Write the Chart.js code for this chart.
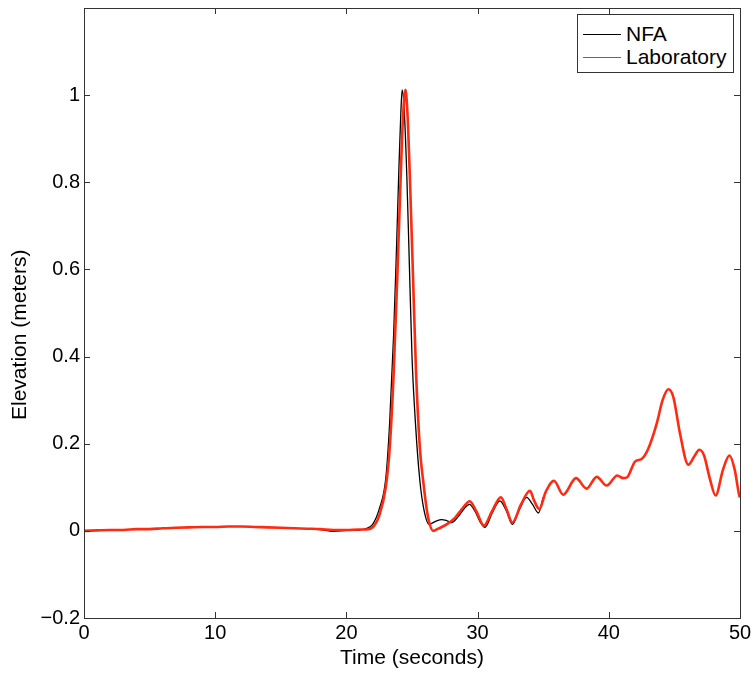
<!DOCTYPE html>
<html>
<head>
<meta charset="utf-8">
<script src="https://cdn.jsdelivr.net/npm/chart.js@4"></script>
<style>
  body { margin: 0; background: #fff; }
  #wrap { position: relative; width: 753px; height: 675px; }
  #legend {
    position: absolute; left: 577px; top: 14px; width: 155px; height: 57px;
    border: 1px solid #333; background: #fff;
    font-family: "Liberation Sans", Arial, sans-serif; font-size: 21px; color: #000;
  }
  .row { position: absolute; left: 0; height: 24px; line-height: 24px; }
  .row span.ln { position: absolute; left: 5px; top: 12px; width: 38px; height: 1px; }
  .row span.tx { position: absolute; left: 48px; white-space: nowrap; }
</style>
</head>
<body>
<div id="wrap">
  <canvas id="chart" width="753" height="675"></canvas>
  <div id="legend">
    <div class="row" style="top:7px"><span class="ln" style="background:#000"></span><span class="tx">NFA</span></div>
    <div class="row" style="top:30px"><span class="ln" style="background:#ff2a10"></span><span class="tx">Laboratory</span></div>
  </div>
</div>
<script>
// NFA model run (only computed over a window around the pulse)
const nfaTime = [17, 18, 19, 20, 21, 21.5, 22, 22.5, 23, 23.3, 23.6, 23.8, 24.0, 24.15, 24.25, 24.4, 24.6, 24.8, 25.0, 25.3, 25.6, 25.9, 26.3, 26.8, 27.26, 27.6, 28.0, 28.5, 29.0, 29.37, 29.8, 30.2, 30.56, 31.1, 31.7, 32.2, 32.65, 33.2, 33.74, 34.2, 34.64, 35.0];
const nfaElev = [0.004, 0.003, -0.001, 0.001, 0.002, 0.005, 0.015, 0.05, 0.12, 0.25, 0.45, 0.63, 0.83, 0.96, 1.012, 0.97, 0.82, 0.61, 0.40, 0.23, 0.115, 0.05, 0.015, 0.022, 0.026, 0.024, 0.019, 0.032, 0.052, 0.061, 0.045, 0.02, 0.008, 0.04, 0.069, 0.045, 0.015, 0.05, 0.077, 0.06, 0.041, 0.077];

// laboratory gauge record
const labTime = [0, 1, 2, 3, 4, 5, 6, 7, 8, 9, 10, 11, 12, 13, 14, 15, 16, 17, 18, 19, 20, 21, 21.5, 22, 22.5, 23.0, 23.3, 23.6, 23.9, 24.1, 24.3, 24.5, 24.65, 24.85, 25.05, 25.3, 25.6, 25.85, 26.2, 26.62, 27.0, 27.64, 28.28, 28.8, 29.4, 29.9, 30.49, 31.1, 31.78, 32.2, 32.65, 33.3, 33.99, 34.3, 34.7, 35.2, 35.82, 36.53, 37.5, 38.31, 39.08, 39.84, 40.65, 41.1, 41.4, 42.0, 42.5, 43.0, 43.65, 44.1, 44.54, 44.92, 45.43, 46.06, 46.5, 46.9, 47.26, 47.7, 48.14, 48.7, 49.19, 49.6, 49.95, 50];
const labElev = [0.000, 0.001, 0.002, 0.002, 0.004, 0.004, 0.006, 0.007, 0.008, 0.009, 0.009, 0.010, 0.010, 0.009, 0.008, 0.007, 0.006, 0.005, 0.004, 0.002, 0.002, 0.003, 0.003, 0.008, 0.035, 0.10, 0.19, 0.36, 0.60, 0.78, 0.94, 1.012, 0.96, 0.80, 0.61, 0.37, 0.19, 0.115, 0.035, 0.0, 0.005, 0.015, 0.03, 0.05, 0.068, 0.045, 0.012, 0.045, 0.077, 0.05, 0.019, 0.06, 0.092, 0.07, 0.05, 0.09, 0.115, 0.083, 0.121, 0.097, 0.124, 0.104, 0.127, 0.121, 0.123, 0.159, 0.165, 0.188, 0.246, 0.30, 0.325, 0.307, 0.223, 0.152, 0.17, 0.186, 0.173, 0.12, 0.081, 0.14, 0.173, 0.14, 0.08, 0.077];

const yTicks = [-0.2, 0, 0.2, 0.4, 0.6, 0.8, 1];
const yLabel = "Elevation (meters)";

const FAMILY = "Liberation Sans, Arial, sans-serif";
const TICK_FONT = { family: FAMILY, size: 20 };
const TITLE_FONT = { family: FAMILY, size: 21 };

const toPts = (xs, ys) => xs.map((x, i) => ({ x, y: ys[i] }));

// MATLAB-style box with inward ticks on all four sides, plus the y label
const frame = {
  id: "frame",
  afterDraw(chart) {
    const { ctx, chartArea: a, scales: { x, y } } = chart;
    ctx.save();
    ctx.strokeStyle = "#333";
    ctx.lineWidth = 1;
    ctx.strokeRect(a.left + 0.5, a.top + 0.5, a.right - a.left, a.bottom - a.top);
    ctx.beginPath();
    x.ticks.forEach(t => {
      const px = Math.round(x.getPixelForValue(t.value)) + 0.5;
      ctx.moveTo(px, a.bottom); ctx.lineTo(px, a.bottom - 6);
      ctx.moveTo(px, a.top);    ctx.lineTo(px, a.top + 6);
    });
    yTicks.forEach(v => {
      const py = Math.round(y.getPixelForValue(v)) + 0.5;
      ctx.moveTo(a.left, py);  ctx.lineTo(a.left + 6, py);
      ctx.moveTo(a.right, py); ctx.lineTo(a.right - 6, py);
    });
    ctx.stroke();

    ctx.translate(20, y.getPixelForValue(0.45));
    ctx.rotate(-Math.PI / 2);
    ctx.fillStyle = "#000";
    ctx.font = `${TITLE_FONT.size}px ${FAMILY}`;
    ctx.textAlign = "center";
    ctx.textBaseline = "middle";
    ctx.fillText(yLabel, 0, 0);
    ctx.restore();
  },
};

new Chart(document.getElementById("chart"), {
  type: "line",
  data: {
    datasets: [
      {
        label: "Laboratory",
        data: toPts(labTime, labElev),
        borderColor: "#ff2a10",
        borderWidth: 2.6,
        pointRadius: 0,
        cubicInterpolationMode: "monotone",
        order: 0,
      },
      {
        label: "NFA",
        data: toPts(nfaTime, nfaElev),
        borderColor: "#000",
        borderWidth: 1.3,
        pointRadius: 0,
        cubicInterpolationMode: "monotone",
        order: 1,
      },
    ],
  },
  options: {
    responsive: false,
    animation: false,
    layout: { padding: { top: 8, right: 13, left: 0, bottom: 0 } },
    plugins: { legend: { display: false }, tooltip: { enabled: false } },
    scales: {
      x: {
        type: "linear",
        min: 0, max: 50,
        ticks: { stepSize: 10, color: "#000", font: TICK_FONT, padding: 3, maxRotation: 0 },
        grid: { display: false, drawTicks: false },
        border: { display: false },
        title: { display: true, text: "Time (seconds)", color: "#000", font: TITLE_FONT, padding: { top: 0, bottom: 4 } },
        afterFit: s => { s.height = 57; s.paddingLeft = 0; s.paddingRight = 0; },
      },
      y: {
        min: -0.2, max: 1.2,
        ticks: {
          stepSize: 0.2, color: "#000", font: TICK_FONT, padding: 4,
          callback: v => {
            if (v > 1.1) return "";
            const r = Math.round(v * 10) / 10;
            return r < 0 ? "\u2212" + Math.abs(r) : String(r);
          },
        },
        grid: { display: false, drawTicks: false },
        border: { display: false },
        afterFit: s => { s.width = 84; s.paddingTop = 0; s.paddingBottom = 0; },
      },
    },
  },
  plugins: [frame],
});
</script>
</body>
</html>
